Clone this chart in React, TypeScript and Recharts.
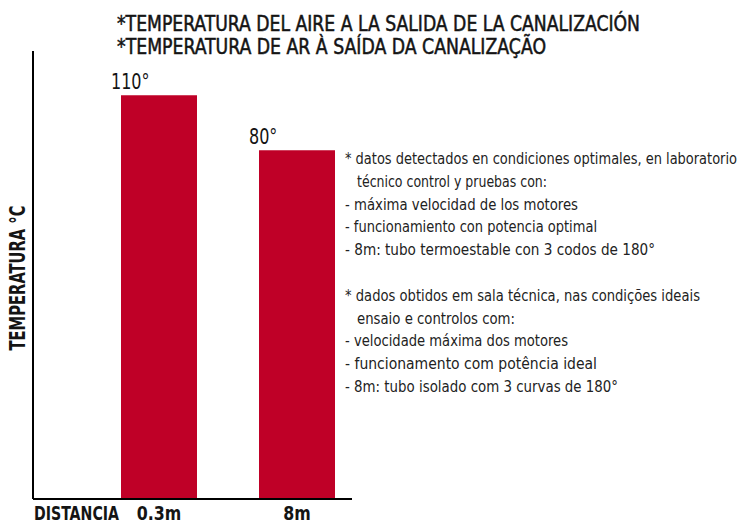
import React from 'react';
import { BarChart, Bar, XAxis, YAxis, LabelList } from 'recharts';

// Temperature of the air at the duct outlet, by distance
const distances = ['0.3m', '8m'];
const temperatures = [110, 80];

const titleLines = [
  '*TEMPERATURA DEL AIRE A LA SALIDA DE LA CANALIZACIÓN',
  '*TEMPERATURA DE AR À SAÍDA DA CANALIZAÇÃO',
];

// [text, indented]
const notesEs: [string, boolean][] = [
  ['* datos detectados en condiciones optimales, en laboratorio', false],
  ['técnico control y pruebas con:', true],
  ['- máxima velocidad de los motores', false],
  ['- funcionamiento con potencia optimal', false],
  ['- 8m: tubo termoestable con 3 codos de 180°', false],
];
const notesPt: [string, boolean][] = [
  ['* dados obtidos em sala técnica, nas condições ideais', false],
  ['ensaio e controlos com:', true],
  ['- velocidade máxima dos motores', false],
  ['- funcionamento com potência ideal', false],
  ['- 8m: tubo isolado com 3 curvas de 180°', false],
];

const xAxisTitle = 'DISTANCIA';
const yAxisTitle = 'TEMPERATURA °C';

const data = distances.map((d, i) => ({ distance: d, temperature: temperatures[i] }));

// Layout: rendered widths of the condensed text runs
const titleWidths = [523, 429];
const noteWidths = [392, 190, 233, 252, 310, null, 355, 158, 223, 252, 273];

const FONT = "'DejaVu Sans Condensed', 'Liberation Sans Narrow', Roboto, sans-serif";
const RED = '#bf0027';
const INK = '#141414';

const squeeze = (x: number, s: number) => `translate(${x} 0) scale(${s} 1) translate(${-x} 0)`;

const ValueLabel = (props: any) => {
  const { x, y, value } = props;
  const tx = x - 10;
  return (
    <text x={tx} y={y - 6} fontSize={22} fill={INK} fontFamily={FONT} transform={squeeze(tx, 0.81)}>
      {`${value}°`}
    </text>
  );
};

const DistanceTick = (props: any) => {
  const { x, payload } = props;
  return (
    <text
      x={x}
      y={520}
      textAnchor="middle"
      fontSize={20}
      fontWeight="bold"
      fill={INK}
      fontFamily={FONT}
      transform={squeeze(x, 0.88)}
    >
      {payload.value}
    </text>
  );
};

export default function App() {
  const notes = [...notesEs, null, ...notesPt];
  return (
    <div style={{ position: 'absolute', left: 0, top: 0, width: 739, height: 524, background: '#fff' }}>
      <BarChart
        width={739}
        height={524}
        data={data}
        margin={{ top: 51, right: 387, bottom: 0, left: 0 }}
        barSize={76}
      >
        <XAxis
          dataKey="distance"
          height={25}
          axisLine={{ stroke: '#000', strokeWidth: 2 }}
          tickLine={false}
          tick={<DistanceTick />}
          padding={{ left: 57, right: -14 }}
          label={{
            content: () => (
              <text
                x={34}
                y={520}
                fontSize={20}
                fontWeight="bold"
                fill={INK}
                fontFamily={FONT}
                textLength={85}
                lengthAdjust="spacingAndGlyphs"
              >
                {xAxisTitle}
              </text>
            ),
          }}
        />
        <YAxis
          width={33}
          scale="log"
          domain={[10.62, 142.2]}
          allowDataOverflow
          tick={false}
          tickLine={false}
          axisLine={{ stroke: '#000', strokeWidth: 2 }}
          label={{
            content: () => (
              <text
                x={25}
                y={278}
                transform="rotate(-90 25 278)"
                textAnchor="middle"
                fontSize={21}
                fontWeight="bold"
                fill={INK}
                fontFamily={FONT}
                textLength={145}
                lengthAdjust="spacingAndGlyphs"
              >
                {yAxisTitle}
              </text>
            ),
          }}
        />
        <Bar dataKey="temperature" fill={RED} isAnimationActive={false}>
          <LabelList dataKey="temperature" content={<ValueLabel />} />
        </Bar>
      </BarChart>
      <svg
        width={739}
        height={524}
        style={{ position: 'absolute', left: 0, top: 0, pointerEvents: 'none' }}
      >
        {titleLines.map((t, i) => (
          <text
            key={t}
            x={117}
            y={31 + i * 23}
            fontSize={21}
            fill={INK}
            stroke={INK}
            strokeWidth={0.5}
            fontFamily={FONT}
            textLength={titleWidths[i]}
            lengthAdjust="spacingAndGlyphs"
          >
            {t}
          </text>
        ))}
        {notes.map((n, i) =>
          n ? (
            <text
              key={i}
              x={n[1] ? 357 : 345}
              y={164 + i * 22.8}
              fontSize={16.5}
              fill="#222"
              fontFamily={FONT}
              textLength={noteWidths[i] ?? undefined}
              lengthAdjust="spacingAndGlyphs"
            >
              {n[0]}
            </text>
          ) : null
        )}
      </svg>
    </div>
  );
}
